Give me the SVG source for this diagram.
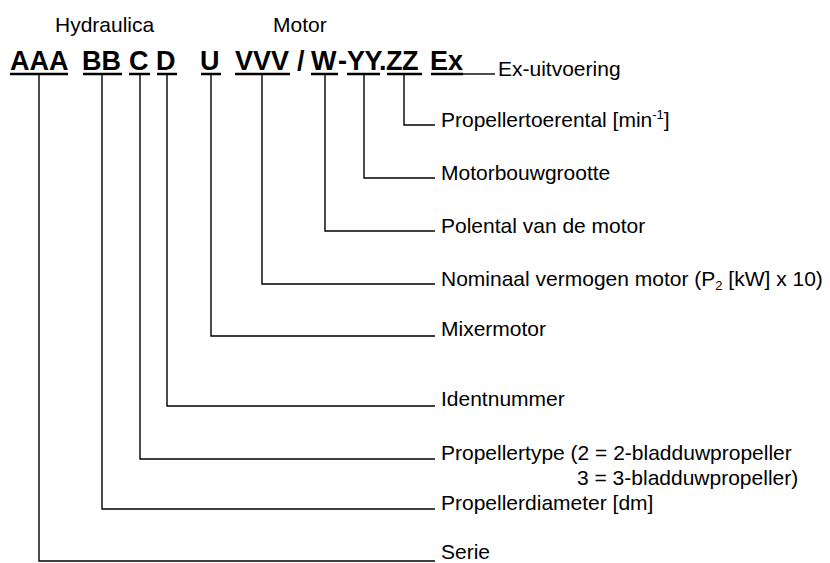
<svg xmlns="http://www.w3.org/2000/svg" width="830" height="563" viewBox="0 0 830 563">
<style>
.hdr{font-family:"Liberation Sans",Arial,sans-serif;font-size:21px;fill:#000}
.code{font-family:"Liberation Sans",Arial,sans-serif;font-size:27px;font-weight:bold;fill:#000}
.lbl{font-family:"Liberation Sans",Arial,sans-serif;font-size:21px;fill:#000}
.sm{font-size:13px}
.ul{stroke:#000;stroke-width:2.5;fill:none}
.con{stroke:#000;stroke-width:1.4;fill:none}
</style>
<rect width="830" height="563" fill="#fff"/>
<g id="headers">
<text class="hdr" x="55" y="32">Hydraulica</text>
<text class="hdr" x="273" y="32">Motor</text>
</g>
<g id="code-AAA"><text class="code" x="10" y="70">AAA</text><line class="ul" x1="10" y1="74" x2="68" y2="74"/></g>
<g id="code-BB"><text class="code" x="82" y="70">BB</text><line class="ul" x1="83" y1="74" x2="122" y2="74"/></g>
<g id="code-C"><text class="code" x="129" y="70">C</text><line class="ul" x1="129" y1="74" x2="150" y2="74"/></g>
<g id="code-D"><text class="code" x="156" y="70">D</text><line class="ul" x1="157" y1="74" x2="177" y2="74"/></g>
<g id="code-U"><text class="code" x="200" y="70">U</text><line class="ul" x1="201" y1="74" x2="221" y2="74"/></g>
<g id="code-VVV"><text class="code" x="235" y="70">VVV</text><line class="ul" x1="235" y1="74" x2="290" y2="74"/></g>
<g id="code-slash"><text class="code" x="297" y="70">/</text></g>
<g id="code-W"><text class="code" x="311" y="70">W</text><line class="ul" x1="311" y1="74" x2="338" y2="74"/></g>
<g id="code-dash"><text class="code" x="338" y="70">-</text></g>
<g id="code-YY-ZZ"><text class="code" x="347" y="70" letter-spacing="-0.5">YY.ZZ</text><line class="ul" x1="347" y1="74" x2="380" y2="74"/><line class="ul" x1="387" y1="74" x2="422" y2="74"/></g>
<g id="code-Ex"><text class="code" x="430" y="70">Ex</text><line class="ul" x1="431" y1="74" x2="463" y2="74"/></g>

<g id="connectors">
<polyline class="con" points="463,74 495,74"/>
<polyline class="con" points="404,75 404,125 435,125"/>
<polyline class="con" points="364,75 364,178 435,178"/>
<polyline class="con" points="325,75 325,231 435,231"/>
<polyline class="con" points="262,75 262,284 435,284"/>
<polyline class="con" points="211,75 211,336 435,336"/>
<polyline class="con" points="167,75 167,406 435,406"/>
<polyline class="con" points="140,75 140,459 435,459"/>
<polyline class="con" points="102,75 102,509 435,509"/>
<polyline class="con" points="39,75 39,561 435,561"/>
</g>

<g id="label-ex"><text class="lbl" x="498" y="76">Ex-uitvoering</text></g>
<g id="label-toerental"><text class="lbl" x="441" y="127">Propellertoerental [min<tspan class="sm" dy="-8">-1</tspan><tspan dy="8">]</tspan></text></g>
<g id="label-bouwgrootte"><text class="lbl" x="441" y="180">Motorbouwgrootte</text></g>
<g id="label-polental"><text class="lbl" x="441" y="233">Polental van de motor</text></g>
<g id="label-vermogen"><text class="lbl" x="441" y="286">Nominaal vermogen motor (P<tspan class="sm" dy="4">2</tspan><tspan dy="-4"> [kW] x 10)</tspan></text></g>
<g id="label-mixer"><text class="lbl" x="441" y="336">Mixermotor</text></g>
<g id="label-ident"><text class="lbl" x="441" y="406">Identnummer</text></g>
<g id="label-type"><text class="lbl" x="441" y="460">Propellertype (2 = 2-bladduwpropeller</text><text class="lbl" x="577" y="485">3 = 3-bladduwpropeller)</text></g>
<g id="label-diameter"><text class="lbl" x="441" y="510">Propellerdiameter [dm]</text></g>
<g id="label-serie"><text class="lbl" x="441" y="559">Serie</text></g>
</svg>
